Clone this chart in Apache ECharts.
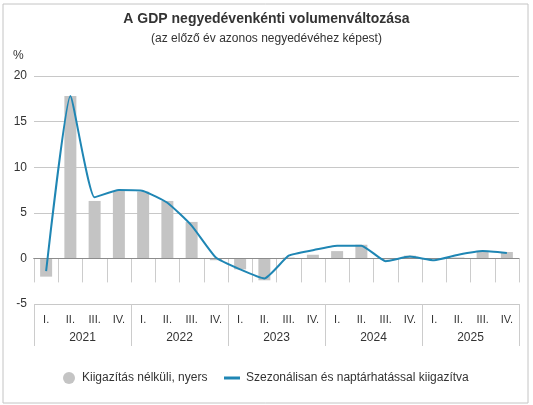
<!DOCTYPE html>
<html><head><meta charset="utf-8">
<script src="https://cdn.jsdelivr.net/npm/echarts@6/dist/echarts.min.js"></script>
<style>html,body{margin:0;padding:0;background:#fff}#c{width:533px;height:405px}</style>
</head><body><div id="c"></div>
<script>
const quarters = ['I.','II.','III.','IV.','I.','II.','III.','IV.','I.','II.','III.','IV.','I.','II.','III.','IV.','I.','II.','III.','IV.'];
const years = ['2021','2022','2023','2024','2025'];
const rawValues = [-2.0, 17.8, 6.3, 7.4, 7.3, 6.3, 4.0, -0.2, -1.2, -2.4, 0.1, 0.4, 0.8, 1.5, -0.1, 0.3, 0.0, 0.1, 0.7, 0.7];
const adjValues = [-1.4, 17.8, 6.7, 7.5, 7.4, 6.1, 3.6, 0.1, -1.2, -2.2, 0.3, 0.9, 1.4, 1.4, -0.3, 0.2, -0.2, 0.4, 0.8, 0.6];
const yTicks = [-5, 0, 5, 10, 15, 20];
const rawName = 'Kiigazítás nélküli, nyers';
const adjName = 'Szezonálisan és naptárhatással kiigazítva';

const font = "'Liberation Sans', Arial, sans-serif";
const chart = echarts.init(document.getElementById('c'));
chart.setOption({
  animation: false,
  textStyle: { fontFamily: font },
  title: {
    text: 'A GDP negyedévenkénti volumenváltozása',
    subtext: '(az előző év azonos negyedévéhez képest)',
    left: 'center', top: 7, itemGap: 7,
    textStyle: { fontFamily: font, fontSize: 14, fontWeight: 'bold', color: '#333' },
    subtextStyle: { fontFamily: font, fontSize: 12, color: '#333' }
  },
  graphic: [
    { type: 'rect', shape: { x: 3, y: 4, width: 525, height: 399 }, style: { fill: 'none', stroke: '#c4c4c4', lineWidth: 1 }, silent: true, z: -10 },
    { type: 'text', left: 13, top: 50, style: { text: '%', fontSize: 12, fill: '#333', fontFamily: font } }
  ],
  legend: [
    {
      left: 63, top: 372, itemWidth: 12, itemHeight: 12, padding: 0,
      textStyle: { fontFamily: font, fontSize: 12, color: '#333', padding: [0, 0, 0, 2] },
      data: [{ name: rawName, icon: 'circle' }]
    },
    {
      left: 224, top: 372, itemWidth: 16, itemHeight: 3, padding: 0,
      textStyle: { fontFamily: font, fontSize: 12, color: '#333', padding: [0, 0, 0, 1] },
      data: [{ name: adjName, icon: 'rect' }]
    }
  ],
  grid: { left: 34, right: 14, top: 76, bottom: 101 },
  xAxis: [
    {
      type: 'category', data: quarters, position: 'bottom',
      axisLine: { show: true, lineStyle: { color: '#333', width: 1 } },
      axisTick: { show: true, interval: 0, length: 24, lineStyle: { color: '#ccc' } },
      axisLabel: { interval: 0, margin: 10, fontSize: 11, color: '#333', fontFamily: font },
      splitLine: { show: false }
    },
    {
      type: 'category', data: years, position: 'bottom', gridIndex: 0,
      axisLine: { show: false },
      axisTick: { show: true, interval: 0, length: 42, lineStyle: { color: '#ccc' } },
      axisLabel: { interval: 0, margin: 28, fontSize: 12, color: '#333', fontFamily: font },
      splitLine: { show: false }
    }
  ],
  yAxis: {
    type: 'value', min: yTicks[0], max: yTicks[yTicks.length - 1], interval: 5,
    axisLine: { show: false }, axisTick: { show: false },
    axisLabel: { fontSize: 12, color: '#333', margin: 7, fontFamily: font },
    splitLine: { lineStyle: { color: '#c8c8c8', width: 1 } }
  },
  series: [
    {
      name: rawName, type: 'bar', xAxisIndex: 0, data: rawValues, barWidth: 12,
      itemStyle: { color: '#c4c4c4' },
      markLine: { silent: true, symbol: 'none', label: { show: false }, lineStyle: { color: '#8c8c8c', type: 'solid', width: 1 }, data: [{ yAxis: 0 }] }
    },
    {
      name: adjName, type: 'line', xAxisIndex: 0, data: adjValues, symbol: 'none', smooth: 0.15,
      lineStyle: { color: '#1f86b4', width: 2 }, itemStyle: { color: '#1f86b4' }, z: 5
    }
  ]
});
</script></body></html>
